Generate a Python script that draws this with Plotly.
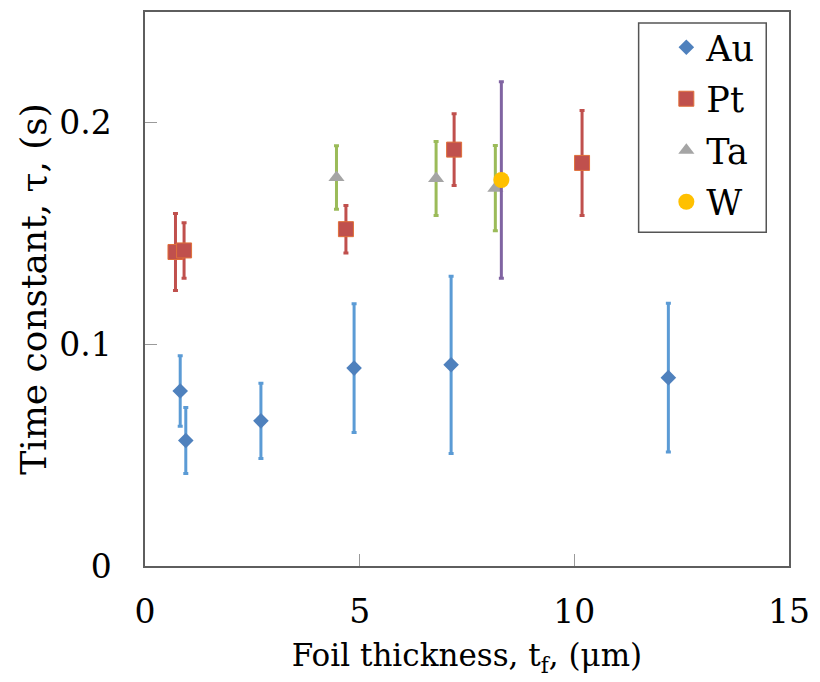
import plotly.graph_objects as go

# ---- data ----
au_x = [0.82, 0.95, 2.70, 4.87, 7.13, 12.19]
au_y = [0.0790, 0.0566, 0.0655, 0.0893, 0.0908, 0.0850]
au_err = [0.0159, 0.0149, 0.0170, 0.0290, 0.0400, 0.0336]

pt_x = [0.71, 0.91, 4.68, 7.20, 10.18]
pt_y = [0.1417, 0.1424, 0.1520, 0.1879, 0.1819]
pt_err = [0.0174, 0.0125, 0.0107, 0.0162, 0.0237]

ta_x = [4.46, 6.78, 8.16]
ta_y = [0.1753, 0.1749, 0.1705]
ta_err = [0.0143, 0.0167, 0.0192]

w_x = [8.30]
w_y = [0.1742]
w_err = [0.0443]

x_ticks = [0, 5, 10, 15]
y_ticks = [0, 0.1, 0.2]

FONT = "DejaVu Serif"

fig = go.Figure()

fig.add_trace(go.Scatter(
    x=au_x, y=au_y, mode="markers", name="Au", legendgroup="au",
    marker=dict(symbol="diamond", size=12, color="#4F81BD", line=dict(width=0)),
    error_y=dict(type="data", array=au_err, visible=True, color="#5B9BD5", thickness=3, width=2.5),
))
fig.add_trace(go.Scatter(
    x=pt_x, y=pt_y, mode="markers", name="Pt", legendgroup="pt",
    marker=dict(symbol="square", size=15, color="#C0504D", line=dict(width=1, color="#E0703A")),
    error_y=dict(type="data", array=pt_err, visible=True, color="#C0504D", thickness=3, width=2.5),
))
fig.add_trace(go.Scatter(
    x=ta_x, y=ta_y, mode="markers", name="Ta", legendgroup="ta",
    marker=dict(symbol="triangle-up", size=14, color="#A5A5A5", line=dict(width=0)),
    error_y=dict(type="data", array=ta_err, visible=True, color="#9BBB59", thickness=3, width=2.5),
))
fig.add_trace(go.Scatter(
    x=w_x, y=w_y, mode="markers", name="W", legendgroup="w",
    marker=dict(symbol="circle", size=16, color="#FFC000", line=dict(width=0)),
    error_y=dict(type="data", array=w_err, visible=True, color="#8064A2", thickness=3, width=2.5),
))

axis_common = dict(
    showgrid=False, zeroline=False, showline=True, mirror=True,
    linecolor="#5E5E5E", linewidth=1.5,
    ticks="inside", ticklen=12, tickcolor="#9A9A9A", tickwidth=1.2,
    tickfont=dict(family=FONT, size=33, color="#000000"),
)

# legend frame drawn as a paper-coordinate rectangle
fig.add_shape(type="rect", xref="paper", yref="paper",
              x0=(644 - 145) / 651, x1=(773 - 145) / 651,
              y0=(566 - 231) / 556, y1=(566 - 21) / 556,
              line=dict(color="#555555", width=1.5), fillcolor="white", layer="below")

fig.update_layout(
    width=820, height=682,
    margin=dict(l=145, r=24, t=10, b=116),
    paper_bgcolor="white", plot_bgcolor="white",
    font=dict(family=FONT, color="#000000"),
    showlegend=True,
    legend=dict(
        x=(672 - 145) / 651, y=(566 - 16) / 556, xanchor="left", yanchor="top",
        bgcolor="rgba(0,0,0,0)", borderwidth=0,
        font=dict(family=FONT, size=35, color="#000000"),
        tracegroupgap=3,
    ),
    xaxis=dict(
        range=[0, 15], tickvals=x_ticks, ticktext=[str(v) for v in x_ticks],
        ticklabelstandoff=16,
        title=dict(text="Foil thickness, t<sub>f</sub>, (μm)",
                   font=dict(family=FONT, size=31, color="#000000"), standoff=14),
        **axis_common,
    ),
    yaxis=dict(
        range=[0, 0.25], tickvals=y_ticks, ticktext=["0", "0.1", "0.2"],
        ticklabelstandoff=25,
        title=dict(text="Time constant, τ, (s)",
                   font=dict(family=FONT, size=36, color="#000000"), standoff=2),
        **axis_common,
    ),
)

fig.write_html("out.html")
